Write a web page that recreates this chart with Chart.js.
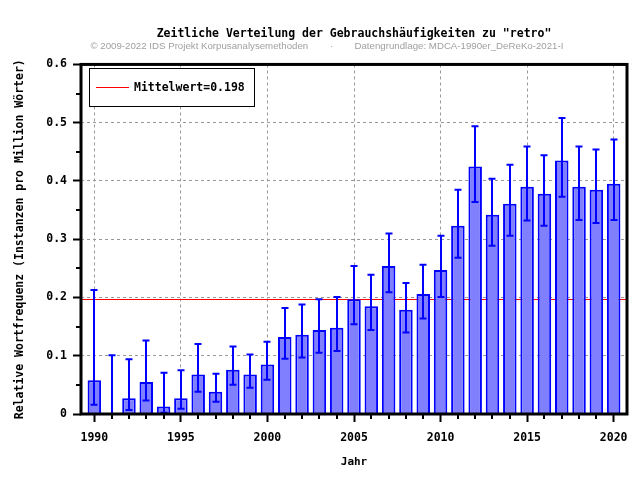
<!DOCTYPE html>
<html>
<head>
<meta charset="utf-8">
<script src="https://cdn.jsdelivr.net/npm/chart.js@4"></script>
<style>
    html, body { margin: 0; padding: 0; background: #fff; }
    #wrap { width: 640px; height: 480px; }
</style>
</head>
<body>
<div id="wrap"><canvas id="retroChart"></canvas></div>
<script>
// Data
const years = [1990, 1991, 1992, 1993, 1994, 1995, 1996, 1997, 1998, 1999,
    2000, 2001, 2002, 2003, 2004, 2005, 2006, 2007, 2008, 2009,
    2010, 2011, 2012, 2013, 2014, 2015, 2016, 2017, 2018, 2019, 2020];
const freq = [0.058, 0, 0.027, 0.055, 0.013, 0.027, 0.068, 0.038, 0.076, 0.068,
    0.085, 0.132, 0.136, 0.144, 0.148, 0.197, 0.185, 0.254, 0.179, 0.206,
    0.247, 0.323, 0.425, 0.342, 0.361, 0.390, 0.378, 0.435, 0.390, 0.385, 0.395];
const errLow = [0.016, 0, 0.007, 0.023, 0.002, 0.009, 0.038, 0.021, 0.050, 0.045,
    0.059, 0.095, 0.097, 0.105, 0.108, 0.154, 0.144, 0.209, 0.140, 0.164,
    0.201, 0.268, 0.364, 0.289, 0.306, 0.332, 0.323, 0.373, 0.333, 0.328, 0.333];
const errHigh = [0.213, 0.101, 0.094, 0.126, 0.071, 0.075, 0.120, 0.069, 0.116, 0.102,
    0.124, 0.182, 0.188, 0.197, 0.201, 0.254, 0.239, 0.310, 0.225, 0.256,
    0.306, 0.385, 0.494, 0.404, 0.428, 0.459, 0.444, 0.508, 0.459, 0.454, 0.471];
const meanValue = 0.198;
const yTicks = [0, 0.1, 0.2, 0.3, 0.4, 0.5, 0.6];

const monoFont = '"DejaVu Sans Mono", "Liberation Mono", monospace';

// Mean line, behind the bars
const meanLinePlugin = {
    id: 'meanLine',
    beforeDatasetsDraw(chart) {
        const { ctx, chartArea } = chart;
        const y = chart.scales.y.getPixelForValue(meanValue);
        ctx.save();
        ctx.strokeStyle = '#ff0000';
        ctx.lineWidth = 1;
        ctx.beginPath();
        ctx.moveTo(chartArea.left, Math.round(y) + 0.5);
        ctx.lineTo(chartArea.right, Math.round(y) + 0.5);
        ctx.stroke();
        ctx.restore();
    }
};

// Error bars, minor ticks, frame and legend box
const overlayPlugin = {
    id: 'overlay',
    afterDatasetsDraw(chart) {
        const { ctx, chartArea } = chart;
        const xs = chart.scales.x;
        const ys = chart.scales.y;

        // error bars
        ctx.save();
        ctx.strokeStyle = '#0000ff';
        ctx.lineWidth = 2;
        years.forEach((yr, i) => {
            const x = Math.round(xs.getPixelForValue(yr));
            const yLo = ys.getPixelForValue(errLow[i]);
            const yHi = ys.getPixelForValue(errHigh[i]);
            ctx.beginPath();
            ctx.moveTo(x, yLo);
            ctx.lineTo(x, yHi);
            ctx.moveTo(x - 3.5, yLo);
            ctx.lineTo(x + 3.5, yLo);
            ctx.moveTo(x - 3.5, yHi);
            ctx.lineTo(x + 3.5, yHi);
            ctx.stroke();
        });
        ctx.restore();

        // minor ticks
        ctx.save();
        ctx.strokeStyle = '#000';
        ctx.lineWidth = 2;
        ctx.beginPath();
        years.forEach(yr => {
            if (yr % 5 !== 0) {
                const x = Math.round(xs.getPixelForValue(yr));
                ctx.moveTo(x, chartArea.bottom);
                ctx.lineTo(x, chartArea.bottom + 5);
            }
        });
        for (let i = 0; i < yTicks.length - 1; i++) {
            const y = Math.round(ys.getPixelForValue((yTicks[i] + yTicks[i + 1]) / 2));
            ctx.moveTo(chartArea.left, y);
            ctx.lineTo(chartArea.left - 5, y);
        }
        ctx.stroke();

        // frame
        ctx.lineWidth = 3;
        ctx.strokeRect(chartArea.left, chartArea.top, chartArea.right - chartArea.left, chartArea.bottom - chartArea.top);
        ctx.restore();

        // legend box
        const lx = Math.round(chartArea.left + 8);
        const ly = Math.round(chartArea.top + 4);
        ctx.save();
        ctx.fillStyle = '#fff';
        ctx.fillRect(lx, ly, 165, 38);
        ctx.strokeStyle = '#000';
        ctx.lineWidth = 1;
        ctx.strokeRect(lx + 0.5, ly + 0.5, 165, 38);
        ctx.strokeStyle = '#ff0000';
        ctx.beginPath();
        ctx.moveTo(lx + 7, ly + 19.5);
        ctx.lineTo(lx + 40, ly + 19.5);
        ctx.stroke();
        ctx.fillStyle = '#000';
        ctx.font = 'bold 11.5px ' + monoFont;
        ctx.textBaseline = 'middle';
        ctx.fillText('Mittelwert=' + meanValue.toFixed(3), lx + 45, ly + 20);
        ctx.restore();
    }
};

const ctx = document.getElementById('retroChart');

new Chart(ctx, {
    type: 'bar',
    data: {
        datasets: [{
            label: 'retro',
            data: years.map((yr, i) => ({ x: yr, y: freq[i] })),
            backgroundColor: '#8080ff',
            borderColor: '#0000ff',
            borderWidth: 2,
            barPercentage: 0.78,
            categoryPercentage: 1
        }]
    },
    options: {
        responsive: true,
        maintainAspectRatio: false,
        animation: false,
        layout: {
            padding: { left: 0, right: 13, top: 0, bottom: 0 }
        },
        plugins: {
            legend: { display: false },
            tooltip: { enabled: false },
            title: {
                display: true,
                text: 'Zeitliche Verteilung der Gebrauchshäufigkeiten zu "retro"',
                fullSize: false,
                color: '#000',
                font: { family: monoFont, size: 11.5, weight: 'bold' },
                padding: { top: 27, bottom: 0 }
            },
            subtitle: {
                display: true,
                text: '          © 2009-2022 IDS Projekt Korpusanalysemethoden        ·        Datengrundlage: MDCA-1990er_DeReKo-2021-I',
                color: '#a0a0a0',
                font: { family: '"Liberation Sans", Arial, sans-serif', size: 9.7 },
                padding: { top: 0, bottom: 12 }
            }
        },
        scales: {
            x: {
                type: 'linear',
                min: 1989.23,
                max: 2020.77,
                offset: false,
                afterFit(scale) { scale.height = 66; },
                grid: {
                    offset: false,
                    color: '#999',
                    lineWidth: 1,
                    tickLength: 8,
                    tickWidth: 2,
                    tickColor: '#000'
                },
                border: { display: false, dash: [3, 3] },
                ticks: {
                    stepSize: 5,
                    includeBounds: false,
                    color: '#000',
                    padding: 9,
                    maxRotation: 0,
                    font: { family: monoFont, size: 11.5, weight: 'bold' },
                    callback: value => String(value)
                },
                title: {
                    display: true,
                    text: 'Jahr',
                    color: '#000',
                    font: { family: monoFont, size: 11, weight: 'bold' },
                    padding: { top: 0, bottom: 11 }
                }
            },
            y: {
                min: 0,
                max: 0.6,
                afterFit(scale) { scale.width = 81; },
                grid: {
                    color: '#999',
                    lineWidth: 1,
                    tickLength: 8,
                    tickWidth: 2,
                    tickColor: '#000'
                },
                border: { display: false, dash: [3, 3] },
                ticks: {
                    stepSize: 0.1,
                    color: '#000',
                    padding: 6,
                    font: { family: monoFont, size: 11.5, weight: 'bold' },
                    callback: value => String(Math.round(value * 10) / 10)
                },
                title: {
                    display: true,
                    text: 'Relative Wortfrequenz (Instanzen pro Million Wörter)',
                    color: '#000',
                    font: { family: monoFont, size: 11.5, weight: 'bold' },
                    padding: { top: 13, bottom: 0 }
                }
            }
        }
    },
    plugins: [meanLinePlugin, overlayPlugin]
});
</script>
</body>
</html>
